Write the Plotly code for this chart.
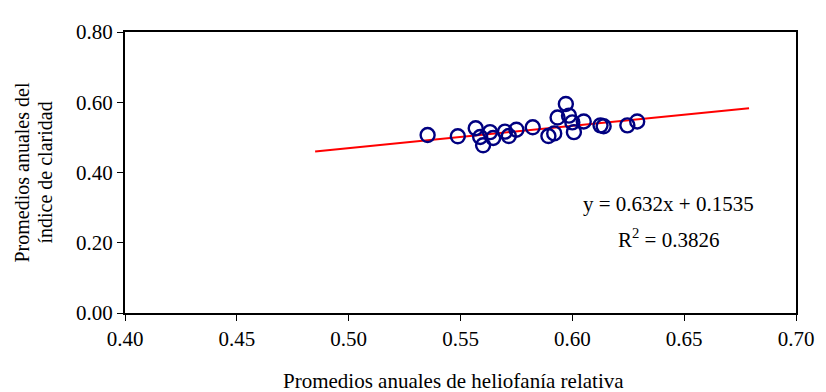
import plotly.graph_objects as go

# Data
heliofania = [0.5353, 0.5488, 0.5568, 0.5601, 0.5588, 0.5632, 0.5646, 0.5699, 0.5716,
              0.5750, 0.5823, 0.5893, 0.5919, 0.5934, 0.5971, 0.5985, 0.6000, 0.6007,
              0.6051, 0.6126, 0.6140, 0.6246, 0.6290]
claridad = [0.5066, 0.5030, 0.5260, 0.4775, 0.5010, 0.5149, 0.4983, 0.5163, 0.5038,
            0.5218, 0.5287, 0.5038, 0.5113, 0.5564, 0.5952, 0.5619, 0.5426, 0.5149,
            0.5453, 0.5343, 0.5315, 0.5343, 0.5453]

slope = 0.632
intercept = 0.1535
trend_x = [0.485, 0.679]
trend_y = [slope * v + intercept for v in trend_x]

x_ticks = [0.40, 0.45, 0.50, 0.55, 0.60, 0.65, 0.70]
y_ticks = [0.00, 0.20, 0.40, 0.60, 0.80]

FONT = "Liberation Serif, Times New Roman, serif"
FS = 21

fig = go.Figure()
fig.add_trace(go.Scatter(
    x=trend_x, y=trend_y, mode="lines",
    line=dict(color="#ff0000", width=2), showlegend=False, hoverinfo="skip"))
fig.add_trace(go.Scatter(
    x=heliofania, y=claridad, mode="markers",
    marker=dict(symbol="circle-open", size=14, color="#000080",
                line=dict(color="#000080", width=2.4)),
    showlegend=False))

fig.update_layout(
    width=818, height=384,
    margin=dict(l=117, r=21, t=16, b=79),
    paper_bgcolor="white", plot_bgcolor="white",
    font=dict(family=FONT, size=FS, color="black"),
    xaxis=dict(range=[0.40, 0.70], tickvals=x_ticks,
               ticktext=[f"{v:.2f}" for v in x_ticks],
               showgrid=False, zeroline=False,
               showline=True, linecolor="black", linewidth=2, mirror=True,
               ticks="outside", ticklen=6, tickcolor="black", tickwidth=1,
               tickfont=dict(family=FONT, size=FS)),
    yaxis=dict(range=[0.0, 0.80], tickvals=y_ticks,
               ticktext=[f"{v:.2f}" for v in y_ticks],
               showgrid=False, zeroline=False,
               showline=True, linecolor="black", linewidth=2, mirror=True,
               ticks="outside", ticklen=6, tickcolor="black", tickwidth=1,
               tickfont=dict(family=FONT, size=FS)),
    annotations=[
        dict(text="Promedios anuales del",
             xref="paper", yref="paper", x=0, y=0.5,
             xanchor="center", yanchor="middle", xshift=-104,
             textangle=-90, showarrow=False,
             font=dict(family=FONT, size=20)),
        dict(text="índice de claridad",
             xref="paper", yref="paper", x=0, y=0.5,
             xanchor="center", yanchor="middle", xshift=-81,
             textangle=-90, showarrow=False,
             font=dict(family=FONT, size=20)),
        dict(text="Promedios anuales de heliofanía relativa",
             xref="paper", yref="paper", x=0.49, y=0,
             xanchor="center", yanchor="middle", yshift=-68,
             showarrow=False, font=dict(family=FONT, size=FS)),
        dict(text="y = 0.632x + 0.1535",
             xref="x", yref="y", x=0.6431, y=0.310,
             xanchor="center", yanchor="middle", showarrow=False,
             font=dict(family=FONT, size=FS)),
        dict(text="R<sup>2</sup> = 0.3826",
             xref="x", yref="y", x=0.6431, y=0.213,
             xanchor="center", yanchor="middle", showarrow=False,
             font=dict(family=FONT, size=FS)),
    ],
)

fig.write_html("out.html")
